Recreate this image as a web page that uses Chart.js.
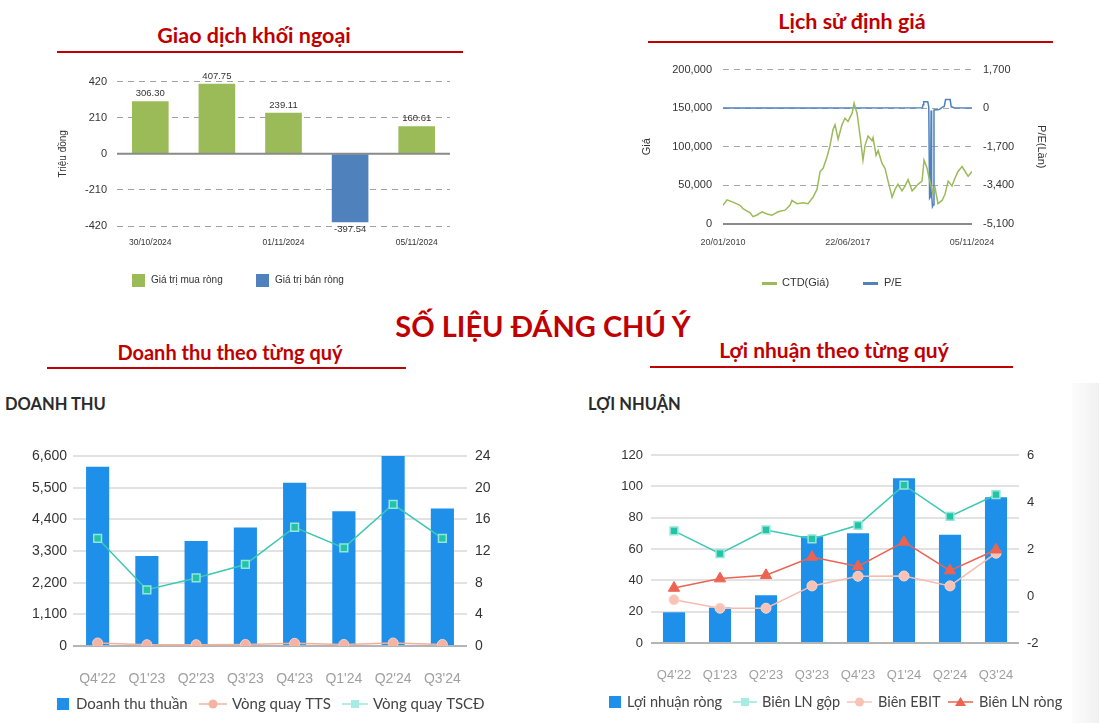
<!DOCTYPE html>
<html lang="vi">
<head>
<meta charset="utf-8">
<title>Số liệu đáng chú ý</title>
<script src="https://cdn.jsdelivr.net/npm/chart.js@4.4.1/dist/chart.umd.min.js"></script>
<style>
  html, body { margin: 0; padding: 0; background: #fff; width: 1099px; height: 723px; overflow: hidden; }
  .box { position: absolute; }
  .title { position: absolute; font-family: Lato, 'Noto Sans', sans-serif; font-weight: 700; color: #C00000; white-space: nowrap; transform: translateX(-50%); line-height: 1; }
  .rule { position: absolute; height: 2px; background: #C00000; }
  .sub { position: absolute; font-family: Lato, 'Noto Sans', sans-serif; font-weight: 700; color: #2b2b2b; font-size: 16.5px; line-height: 1; white-space: nowrap; }
  .panel { position: absolute; left: 1072px; top: 383px; width: 27px; height: 340px; background: linear-gradient(to right, #fcfcfc, #f1f1f1); }
</style>
</head>
<body>

<div class="title" style="left:254px; top:25px; font-size:21.5px;">Giao dịch khối ngoại</div>
<div class="rule" style="left:57px; top:51px; width:406px;"></div>

<div class="title" style="left:852px; top:11px; font-size:21.5px;">Lịch sử định giá</div>
<div class="rule" style="left:648px; top:41px; width:405px;"></div>

<div class="title" style="left:543px; top:311px; font-size:29px;">SỐ LIỆU ĐÁNG CHÚ Ý</div>

<div class="title" style="left:230px; top:342px; font-size:20px;">Doanh thu theo từng quý</div>
<div class="rule" style="left:47px; top:367px; width:359px;"></div>

<div class="title" style="left:834px; top:339px; font-size:21px;">Lợi nhuận theo từng quý</div>
<div class="rule" style="left:650px; top:366px; width:363px;"></div>

<div class="panel"></div>
<div class="sub" style="left:5px; top:396px;">DOANH THU</div>
<div class="sub" style="left:588px; top:396px;">LỢI NHUẬN</div>

<div class="box" style="left:55px; top:65px; width:405px; height:232px;"><canvas id="foreignChart"></canvas></div>
<div class="box" style="left:640px; top:52px; width:420px; height:246px;"><canvas id="priceChart"></canvas></div>
<div class="box" style="left:0px; top:420px; width:540px; height:303px;"><canvas id="revenueChart"></canvas></div>
<div class="box" style="left:575px; top:420px; width:510px; height:303px;"><canvas id="profitChart"></canvas></div>

<script>
// ---- Giao dịch khối ngoại (triệu đồng)
var foreignDates = ['30/10/2024', '31/10/2024', '01/11/2024', '04/11/2024', '05/11/2024'];
var foreignBuy = [306.30, 407.75, 239.11, null, 160.61];
var foreignSell = [null, null, null, -397.54, null];

// ---- Lịch sử định giá: giá CTD và P/E (năm dạng thập phân)
var priceYears = [2010.05, 2010.29, 2010.64, 2011.06, 2011.24, 2011.66, 2011.83, 2012.07, 2012.37, 2012.67,
  2012.96, 2013.32, 2013.74, 2014.03, 2014.15, 2014.45, 2014.81, 2015.10, 2015.40, 2015.64,
  2015.82, 2016.00, 2016.23, 2016.41, 2016.59, 2016.71, 2016.89, 2017.12, 2017.30, 2017.48,
  2017.72, 2017.84, 2018.02, 2018.20, 2018.37, 2018.49, 2018.67, 2018.91, 2018.97, 2019.15,
  2019.27, 2019.50, 2019.68, 2019.86, 2020.10, 2020.28, 2020.45, 2020.69, 2020.87, 2021.05,
  2021.29, 2021.47, 2021.64, 2021.88, 2022.00, 2022.18, 2022.30, 2022.53, 2022.65, 2022.83,
  2023.07, 2023.25, 2023.43, 2023.66, 2023.84, 2024.02, 2024.26, 2024.44, 2024.62, 2024.85];
var priceValues = [24200, 31300, 28300, 24200, 20000, 14500, 9500, 11700, 15800, 12900,
  11300, 15800, 17900, 24200, 30500, 26300, 27600, 26300, 34600, 45100,
  68000, 72200, 86800, 101500, 122300, 128600, 109800, 128600, 137000, 132800,
  143200, 156600, 143200, 114000, 82700, 101500, 114000, 107800, 111900, 89000,
  95200, 78500, 72200, 55500, 34600, 45100, 51400, 43000, 49200, 57600,
  43000, 47100, 51400, 55500, 82700, 72200, 59600, 38800, 47100, 26300,
  30500, 38800, 55500, 49200, 59600, 68000, 74300, 68000, 61800, 68000];
var peYears = [2010.05, 2015.0, 2021.90, 2021.94, 2021.98, 2022.22, 2022.28, 2022.33, 2022.38, 2022.42,
  2022.45, 2022.50, 2022.55, 2022.59, 2022.90, 2023.07, 2023.20, 2023.28, 2023.55, 2023.62,
  2023.80, 2024.85];
var peValues = [10, 12, 15, 150, 285, 285, 60, -3960, -3900, -100,
  -3800, -4330, -4250, -80, -60, 40, 80, 380, 380, 60,
  20, 10];
var priceTickYears = [2010.05, 2017.47, 2024.85];
var priceTickLabels = ['20/01/2010', '22/06/2017', '05/11/2024'];

// ---- Theo quý
var quarters = ["Q4'22", "Q1'23", "Q2'23", "Q3'23", "Q4'23", "Q1'24", "Q2'24", "Q3'24"];
var revenue = [6230, 3130, 3650, 4120, 5670, 4680, 6610, 4780];
var assetTurnover = [0.38, 0.17, 0.17, 0.2, 0.34, 0.2, 0.38, 0.2];
var fixedAssetTurnover = [13.6, 7.1, 8.6, 10.3, 15.0, 12.4, 17.9, 13.6];
var netProfit = [19.6, 22.6, 30.4, 68.1, 70.0, 105.1, 69.1, 93.0];
var grossMargin = [2.77, 1.80, 2.81, 2.43, 3.01, 4.72, 3.39, 4.31];
var ebitMargin = [-0.16, -0.52, -0.52, 0.43, 0.84, 0.85, 0.43, 1.82];
var netMargin = [0.34, 0.74, 0.88, 1.66, 1.26, 2.30, 1.08, 1.97];

Chart.defaults.font.family = "'Liberation Sans', Arial, sans-serif";
Chart.defaults.color = '#333';
Chart.defaults.animation = false;
Chart.defaults.maintainAspectRatio = false;
Chart.defaults.plugins.legend.display = false;
Chart.defaults.plugins.tooltip.enabled = false;

var fmt = function (v) { return Number(v).toLocaleString('en-US'); };

// solid line across plot at a value (zero line)
var zeroLinePlugin = {
  id: 'zeroLine',
  afterDatasetsDraw: function (chart, args, opts) {
    var y = chart.scales[opts.axis].getPixelForValue(opts.value);
    var a = chart.chartArea, ctx = chart.ctx;
    ctx.save();
    ctx.strokeStyle = opts.color;
    ctx.lineWidth = opts.width;
    ctx.beginPath();
    ctx.moveTo(a.left, y);
    ctx.lineTo(a.right, y);
    ctx.stroke();
    ctx.restore();
  }
};

// value labels above / below bars
var barValuesPlugin = {
  id: 'barValues',
  afterDatasetsDraw: function (chart) {
    var ctx = chart.ctx;
    ctx.save();
    ctx.font = "9.5px 'Liberation Sans', Arial, sans-serif";
    ctx.fillStyle = '#333';
    ctx.textAlign = 'center';
    chart.data.datasets.forEach(function (ds, di) {
      chart.getDatasetMeta(di).data.forEach(function (bar, i) {
        var v = ds.data[i];
        if (v === null) return;
        if (v >= 0) {
          ctx.textBaseline = 'bottom';
          ctx.fillText(v.toFixed(2), bar.x, bar.y - 3);
        } else {
          ctx.textBaseline = 'top';
          ctx.fillText(v.toFixed(2), bar.x, bar.y + 2);
        }
      });
    });
    ctx.restore();
  }
};

// legend drawn under the chart: icon + dataset label
var iconLegendPlugin = {
  id: 'iconLegend',
  afterDraw: function (chart, args, o) {
    var ctx = chart.ctx;
    ctx.save();
    ctx.font = o.font;
    ctx.fillStyle = o.color;
    ctx.textBaseline = 'middle';
    ctx.textAlign = 'left';
    chart.data.datasets.forEach(function (ds, i) {
      var icon = o.icons[i];
      ctx.drawImage(icon, o.iconX[i], Math.round(o.y - icon.height / 2));
      ctx.fillText(ds.label, o.textX[i], o.y);
    });
    ctx.restore();
  }
};

function makeIcon(kind, color, marker, markerColor, w, h) {
  var c = document.createElement('canvas');
  c.width = w; c.height = h;
  var g = c.getContext('2d');
  var cy = h / 2;
  if (kind === 'square') {
    g.fillStyle = color;
    g.fillRect(0, 0, w, h);
    return c;
  }
  g.strokeStyle = color;
  g.lineWidth = kind === 'thick' ? h : 1.5;
  g.beginPath(); g.moveTo(0, cy); g.lineTo(w, cy); g.stroke();
  g.fillStyle = markerColor;
  if (marker === 'circle') {
    g.beginPath(); g.arc(w / 2, cy, 4.5, 0, Math.PI * 2); g.fill();
  } else if (marker === 'rect') {
    g.fillRect(w / 2 - 4, cy - 4, 8, 8);
  } else if (marker === 'triangle') {
    g.beginPath(); g.moveTo(w / 2, cy - 5); g.lineTo(w / 2 + 5.5, cy + 4); g.lineTo(w / 2 - 5.5, cy + 4); g.closePath(); g.fill();
  }
  return c;
}

// ================= Giao dịch khối ngoại =================
new Chart(document.getElementById('foreignChart'), {
  type: 'bar',
  data: {
    labels: foreignDates,
    datasets: [
      { label: 'Giá trị mua ròng', data: foreignBuy, backgroundColor: '#9BBB59', barPercentage: 0.55, categoryPercentage: 1 },
      { label: 'Giá trị bán ròng', data: foreignSell, backgroundColor: '#4F81BD', barPercentage: 0.55, categoryPercentage: 1 }
    ]
  },
  options: {
    layout: { padding: { top: 16, right: 10, bottom: 41, left: 0 } },
    plugins: {
      zeroLine: { axis: 'y', value: 0, color: '#8a8a8a', width: 2 },
      iconLegend: { font: "10px 'Liberation Sans', Arial, sans-serif", color: '#333', y: 215,
        iconX: [77, 201], textX: [96, 220],
        icons: [makeIcon('square', '#9BBB59', null, null, 13, 13), makeIcon('square', '#4F81BD', null, null, 13, 13)] }
    },
    scales: {
      x: {
        stacked: true,
        grid: { display: false, drawTicks: false }, border: { display: false },
        ticks: { autoSkip: false, maxRotation: 0, padding: 12, font: { size: 8.5 }, color: '#333',
          callback: function (v, i) { return i % 2 === 0 ? this.getLabelForValue(v) : ''; } },
        afterFit: function (s) { s.height = 30; }
      },
      y: {
        min: -420, max: 420,
        ticks: { stepSize: 210, padding: 10, font: { size: 11 }, color: '#333' },
        grid: { color: '#a0a0a0', drawTicks: false },
        border: { display: false, dash: [6, 5] },
        title: { display: true, text: 'Triệu đồng', font: { size: 10 }, color: '#333', padding: { top: 2, bottom: 0 } },
        afterFit: function (s) { s.width = 62; }
      }
    }
  },
  plugins: [barValuesPlugin, zeroLinePlugin, iconLegendPlugin]
});

// ================= Lịch sử định giá =================
new Chart(document.getElementById('priceChart'), {
  type: 'line',
  data: {
    datasets: [
      { label: 'CTD(Giá)', yAxisID: 'y', borderColor: '#9BBB59', borderWidth: 1.5, pointRadius: 0,
        data: priceYears.map(function (x, i) { return { x: x, y: priceValues[i] }; }) },
      { label: 'P/E', yAxisID: 'y1', borderColor: '#4F81BD', borderWidth: 1.5, pointRadius: 0,
        data: peYears.map(function (x, i) { return { x: x, y: peValues[i] }; }) }
    ]
  },
  options: {
    layout: { padding: { top: 14, right: 0, bottom: 40, left: 0 } },
    plugins: {
      zeroLine: { axis: 'y', value: 0, color: '#8a8a8a', width: 2 },
      iconLegend: { font: "11px 'Liberation Sans', Arial, sans-serif", color: '#333', y: 231,
        iconX: [122, 223], textX: [142, 244],
        icons: [makeIcon('thick', '#9BBB59', null, null, 15, 3), makeIcon('thick', '#4F81BD', null, null, 15, 3)] }
    },
    scales: {
      x: {
        type: 'linear', min: 2010.05, max: 2024.85,
        grid: { display: false, drawTicks: false }, border: { display: false },
        afterBuildTicks: function (s) { s.ticks = priceTickYears.map(function (v) { return { value: v }; }); },
        ticks: { autoSkip: false, maxRotation: 0, padding: 13, font: { size: 9 }, color: '#444',
          callback: function (v, i) { return priceTickLabels[i]; } },
        afterFit: function (s) { s.height = 34; }
      },
      y: {
        position: 'left', min: 0, max: 200000,
        ticks: { stepSize: 50000, padding: 11, font: { size: 11 }, color: '#333', callback: fmt },
        grid: { color: '#a8a8a8', drawTicks: false },
        border: { display: false, dash: [6, 5] },
        title: { display: true, text: 'Giá', font: { size: 11 }, color: '#333', padding: { top: 0, bottom: 0 } },
        afterFit: function (s) { s.width = 83; }
      },
      y1: {
        position: 'right', min: -5100, max: 1700,
        ticks: { stepSize: 1700, padding: 11, font: { size: 11 }, color: '#333', callback: fmt },
        grid: { display: false, drawTicks: false }, border: { display: false },
        title: { display: true, text: 'P/E(Lần)', font: { size: 11 }, color: '#333', padding: { top: 12, bottom: 0 } },
        afterFit: function (s) { s.width = 88; }
      }
    }
  },
  plugins: [zeroLinePlugin, iconLegendPlugin]
});

// ================= Doanh thu =================
var gridColor = function (c) { return c.tick && c.tick.value === 0 ? '#b4b4b4' : '#e2e2e2'; };

new Chart(document.getElementById('revenueChart'), {
  type: 'bar',
  data: {
    labels: quarters,
    datasets: [
      { type: 'bar', label: 'Doanh thu thuần', data: revenue, yAxisID: 'y', backgroundColor: '#1E90EA',
        barPercentage: 0.47, categoryPercentage: 1, order: 3 },
      { type: 'line', label: 'Vòng quay TTS', data: assetTurnover, yAxisID: 'y1', borderColor: '#F5AD9C', borderWidth: 1.5,
        pointStyle: 'circle', pointRadius: 5, pointBackgroundColor: '#F5B3A3', pointBorderColor: '#F9CFC4', pointBorderWidth: 1, order: 2 },
      { type: 'line', label: 'Vòng quay TSCĐ', data: fixedAssetTurnover, yAxisID: 'y1', borderColor: '#3CC8B4', borderWidth: 1.5,
        pointStyle: 'rect', pointRadius: 5.5, pointBackgroundColor: '#22C3A6', pointBorderColor: '#93E6D9', pointBorderWidth: 1.5, order: 1 }
    ]
  },
  options: {
    layout: { padding: { top: 36, right: 0, bottom: 36, left: 0 } },
    plugins: {
      iconLegend: { font: "15px Lato, 'Noto Sans', sans-serif", color: '#444', y: 284,
        iconX: [57, 199, 342], textX: [76, 232, 373],
        icons: [
          makeIcon('square', '#1E90EA', null, null, 12, 12),
          makeIcon('line', '#F5B3A3', 'circle', '#F5B3A3', 28, 14),
          makeIcon('line', '#9BE6DC', 'rect', '#A6ECE3', 26, 14)
        ] }
    },
    scales: {
      x: {
        grid: { display: false, drawTicks: false }, border: { display: false },
        ticks: { padding: 25, font: { size: 14 }, color: '#a0a0a0' },
        afterFit: function (s) { s.height = 41; }
      },
      y: {
        position: 'left', min: 0, max: 6600,
        ticks: { stepSize: 1100, padding: 6, font: { size: 14 }, color: '#333', callback: fmt },
        grid: { color: gridColor, lineWidth: 2, drawTicks: false }, border: { display: false },
        afterFit: function (s) { s.width = 73; }
      },
      y1: {
        position: 'right', min: 0, max: 24,
        ticks: { stepSize: 4, padding: 8, font: { size: 14 }, color: '#333' },
        grid: { display: false, drawTicks: false }, border: { display: false },
        afterFit: function (s) { s.width = 73; }
      }
    }
  },
  plugins: [iconLegendPlugin]
});

// ================= Lợi nhuận =================
new Chart(document.getElementById('profitChart'), {
  type: 'bar',
  data: {
    labels: quarters,
    datasets: [
      { type: 'bar', label: 'Lợi nhuận ròng', data: netProfit, yAxisID: 'y', backgroundColor: '#1E90EA',
        barPercentage: 0.48, categoryPercentage: 1, order: 4 },
      { type: 'line', label: 'Biên LN gộp', data: grossMargin, yAxisID: 'y1', borderColor: '#3CC8B4', borderWidth: 1.5,
        pointStyle: 'rect', pointRadius: 5.5, pointBackgroundColor: '#22C3A6', pointBorderColor: '#93E6D9', pointBorderWidth: 1.5, order: 3 },
      { type: 'line', label: 'Biên EBIT', data: ebitMargin, yAxisID: 'y1', borderColor: '#F7BCAF', borderWidth: 1.5,
        pointStyle: 'circle', pointRadius: 5, pointBackgroundColor: '#F8C2B5', pointBorderColor: '#FAD6CD', pointBorderWidth: 1, order: 2 },
      { type: 'line', label: 'Biên LN ròng', data: netMargin, yAxisID: 'y1', borderColor: '#EC6352', borderWidth: 1.5,
        pointStyle: 'triangle', pointRadius: 6.5, pointBackgroundColor: '#EC6352', pointBorderColor: '#EC6352', pointBorderWidth: 1, order: 1 }
    ]
  },
  options: {
    layout: { padding: { top: 35, right: 0, bottom: 39, left: 0 } },
    plugins: {
      iconLegend: { font: "14.5px Lato, 'Noto Sans', sans-serif", color: '#444', y: 282,
        iconX: [34, 158, 272, 373], textX: [52, 187, 303, 404],
        icons: [
          makeIcon('square', '#1E90EA', null, null, 12, 12),
          makeIcon('line', '#9BE6DC', 'rect', '#A6ECE3', 24, 14),
          makeIcon('line', '#F8C6BA', 'circle', '#F8C2B5', 25, 14),
          makeIcon('line', '#EC6352', 'triangle', '#EC6352', 25, 14)
        ] }
    },
    scales: {
      x: {
        grid: { display: false, drawTicks: false }, border: { display: false },
        ticks: { padding: 25, font: { size: 13 }, color: '#a0a0a0' },
        afterFit: function (s) { s.height = 41; }
      },
      y: {
        position: 'left', min: 0, max: 120,
        ticks: { stepSize: 20, padding: 8, font: { size: 13 }, color: '#333' },
        grid: { color: gridColor, lineWidth: 2, drawTicks: false }, border: { display: false },
        afterFit: function (s) { s.width = 76; }
      },
      y1: {
        position: 'right', min: -2, max: 6,
        ticks: { stepSize: 2, padding: 8, font: { size: 13 }, color: '#333' },
        grid: { display: false, drawTicks: false }, border: { display: false },
        afterFit: function (s) { s.width = 66; }
      }
    }
  },
  plugins: [iconLegendPlugin]
});
</script>
</body>
</html>
